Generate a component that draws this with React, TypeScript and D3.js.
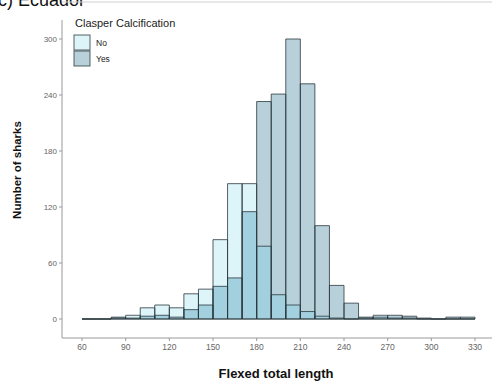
import React from "react";
import * as d3 from "d3";

const binStarts = [60,70,80,90,100,110,120,130,140,150,160,170,180,190,200,210,220,230,240,250,260,270,280,290,300,310,320];
const binWidth = 10;
const noVals = [0,0,1,4,12,15,12,27,32,85,145,145,78,26,15,8,3,1,0,1,4,1,1,0,0,0,0];
const yesVals = [0,0,2,1,3,4,2,10,15,35,44,115,233,241,300,252,100,36,17,2,2,4,3,1,0,2,2];
const xTicks = [60,90,120,150,180,210,240,270,300,330];
const yTicks = [0,60,120,180,240,300];
const legendLabels = ["No","Yes"];

const W = 492, H = 382;
const colNo = "#ddf4f8";
const colYes = "#b7d0d9";
const colBoth = "#a3d0de";
const stroke = "#2c3a40";

export default function App() {
  const x = d3.scaleLinear().domain([60, 330]).range([82, 475]);
  const y = d3.scaleLinear().domain([0, 300]).range([319, 39]);
  const panelLeft = 62, panelBottom = 338, panelTop = 20;
  const font = "'Liberation Sans', Arial, sans-serif";

  const barPath = (b: number, v: number) => {
    const x0 = x(b), x1 = x(b + binWidth), y0 = y(0), y1 = y(v);
    return `M${x0},${y0}V${y1}H${x1}V${y0}Z`;
  };

  return (
    <svg width={W} height={H} style={{ position: "absolute", left: 0, top: 0 }} fontFamily={font}>
      <rect width={W} height={H} fill="#fff" />
      <text x={-2} y={6} fontSize={18} fill="#111">c) Ecuador</text>
      <line x1={panelLeft} x2={W} y1={2} y2={2} stroke="#d0d0d0" strokeWidth={1} />
      {binStarts.map((b, i) => (
        <path key={"nf" + i} d={barPath(b, noVals[i])} fill={colNo} />
      ))}
      {binStarts.map((b, i) => (
        <path key={"yf" + i} d={barPath(b, yesVals[i])} fill={colYes} />
      ))}
      {binStarts.map((b, i) => (
        <path key={"bf" + i} d={barPath(b, Math.min(noVals[i], yesVals[i]))} fill={colBoth} />
      ))}
      {binStarts.map((b, i) => (
        <path key={"ns" + i} d={barPath(b, noVals[i])} fill="none" stroke={stroke} strokeWidth={1} strokeOpacity={0.8} />
      ))}
      {binStarts.map((b, i) => (
        <path key={"ys" + i} d={barPath(b, yesVals[i])} fill="none" stroke={stroke} strokeWidth={1} strokeOpacity={0.8} />
      ))}
      <line x1={panelLeft} x2={panelLeft} y1={panelTop} y2={panelBottom} stroke="#9a9a9a" strokeWidth={1} />
      <line x1={panelLeft} x2={W} y1={panelBottom} y2={panelBottom} stroke="#9a9a9a" strokeWidth={1} />
      {yTicks.map((t) => (
        <g key={"yt" + t}>
          <line x1={panelLeft - 3} x2={panelLeft} y1={y(t)} y2={y(t)} stroke="#9a9a9a" />
          <text x={panelLeft - 5} y={y(t)} dy="0.35em" textAnchor="end" fontSize={8} fill="#666">{t}</text>
        </g>
      ))}
      {xTicks.map((t) => (
        <g key={"xt" + t}>
          <line x1={x(t)} x2={x(t)} y1={panelBottom} y2={panelBottom + 3} stroke="#9a9a9a" />
          <text x={x(t)} y={350} textAnchor="middle" fontSize={8.5} fill="#666">{t}</text>
        </g>
      ))}
      <text x={276} y={378} textAnchor="middle" fontSize={13} fontWeight="bold" fill="#111">Flexed total length</text>
      <text transform="translate(21,170) rotate(-90)" textAnchor="middle" fontSize={11.5} fontWeight="bold" fill="#111">Number of sharks</text>
      <text x={75} y={27} fontSize={11} fill="#222">Clasper Calcification</text>
      {legendLabels.map((lab, i) => (
        <g key={lab}>
          <rect x={74} y={35 + i * 16} width={16} height={15} fill={i === 0 ? colNo : colYes} stroke={stroke} strokeWidth={1} strokeOpacity={0.8} />
          <text x={96} y={43 + i * 16} dy="0.35em" fontSize={8.5} fill="#222">{lab}</text>
        </g>
      ))}
    </svg>
  );
}
